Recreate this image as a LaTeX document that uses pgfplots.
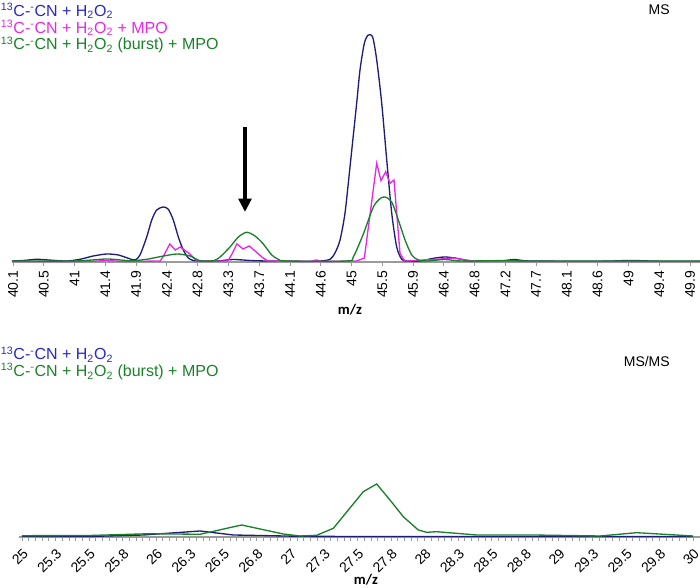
\documentclass[border=0pt]{standalone}
\usepackage{pgfplots}
\pgfplotsset{compat=1.18}
\usepackage{fontspec}
\setmainfont{Liberation Sans}
\newfontfamily\calibri{Carlito}
\usetikzlibrary{arrows.meta}
\definecolor{navy}{RGB}{30,30,120}
\definecolor{legblue}{RGB}{40,40,200}
\definecolor{mag}{RGB}{230,40,230}
\definecolor{grn}{RGB}{25,130,40}
\definecolor{axgray}{RGB}{155,155,155}
\pgfplotsset{mystyle/.style={
  scale only axis, axis x line*=bottom, axis y line=none, ymin=0,
  x axis line style={axgray, line width=0.9pt},
  tick style={axgray, line width=0.6pt},
  major tick length=3pt, minor tick length=3pt, tick align=outside,
  ticklabel style={font=\fontsize{10.5}{12}\selectfont, text=black},
  /pgf/number format/assume math mode=true,
  clip=false}}
\begin{document}
\begin{tikzpicture}
\useasboundingbox (0,0) rectangle (525pt,441pt);
% ---------- top: MS ----------
\begin{axis}[mystyle, at={(9pt,244.5pt)}, anchor=south west,
  width=516pt, height=174pt, xmin=40.085, xmax=50.045, ymax=232,
  xtick={40.1,40.5455,40.9909,41.4364,41.8818,42.3273,42.7727,43.2182,43.6636,44.1091,44.5545,45.0,45.4455,45.8909,46.3364,46.7818,47.2273,47.6727,48.1182,48.5636,49.0091,49.4545,49.9},
  xticklabels={40.1,40.5,41,41.4,41.9,42.4,42.8,43.3,43.7,44.1,44.6,45,45.5,45.9,46.4,46.8,47.2,47.7,48.1,48.6,49,49.4,49.9},
  minor tick num=8,
  xticklabel style={rotate=90, anchor=east}]
\addplot[navy, line width=1pt, smooth, tension=0.45] coordinates {
(40.085,1) (40.25,1.5) (40.443,2.7) (40.65,1.8) (40.877,1) (41.070,2.7) (41.262,6) (41.456,8) (41.624,7) (41.769,3.7) (41.866,2) (41.938,7) (42.035,25) (42.108,42) (42.180,52) (42.276,55) (42.348,52.7) (42.420,42) (42.493,25) (42.565,12) (42.638,4) (42.710,1.5) (42.807,1) (43.05,1) (43.289,2.5) (43.531,1.5) (43.773,1) (44.255,0.8) (44.544,1) (44.689,2.7) (44.761,9) (44.834,22) (44.906,49) (44.978,95) (45.075,159) (45.123,192) (45.186,218.7) (45.243,227) (45.307,224.7) (45.365,202) (45.437,159) (45.510,102) (45.582,49) (45.654,15) (45.727,2.7) (45.799,1) (45.992,1) (46.184,3.7) (46.354,5) (46.523,3.7) (46.716,1) (47.150,1) (47.367,2.5) (47.584,1) (48.597,0.8) (49.032,1.5) (49.466,0.8) (50.045,0.8)};
\addplot[mag, line width=1pt] coordinates {
(40.085,0.5) (41.2,0.5) (41.45,1.5) (41.7,0.5) (42.23,1) (42.27,5) (42.37,18) (42.45,12) (42.52,15) (42.60,11) (42.66,8) (42.76,1) (43.21,1) (43.27,8) (43.34,18) (43.43,13) (43.52,16) (43.62,10) (43.72,4) (43.79,1) (44.40,0.5) (44.49,2) (44.58,0.5) (45.075,1) (45.186,4) (45.365,98.7) (45.427,81.3) (45.495,90.3) (45.557,78.7) (45.615,82) (45.702,8.7) (45.760,2) (45.822,1) (46.281,3) (46.474,4) (46.668,2) (46.8,0.5) (50.045,0.5)};
\addplot[grn, line width=1pt, smooth, tension=0.45] coordinates {
(40.085,1) (41.0,1) (41.461,3) (41.8,1.2) (42.035,2.7) (42.228,5.3) (42.470,8) (42.662,6) (42.807,1.3) (43.000,1.3) (43.097,5) (43.241,15) (43.362,25) (43.483,29.7) (43.603,26) (43.723,18) (43.845,7) (43.941,2.7) (44.062,1) (44.931,1) (45.026,5) (45.171,28) (45.316,55) (45.413,63.3) (45.485,65) (45.582,60) (45.678,42) (45.775,22) (45.872,7) (45.967,2) (46.1,1) (46.35,2.5) (46.6,1) (47.3,1.5) (47.6,1) (50.045,1)};
\draw[black, line width=3pt, -{Triangle[length=10pt,width=9.5pt]}] (axis cs:43.458,135) -- (axis cs:43.458,50);
\end{axis}
% ---------- bottom: MS/MS ----------
\begin{axis}[mystyle, at={(14.25pt,38.25pt)}, anchor=south west,
  width=510.75pt, height=87.75pt, xmin=24.978, xmax=30.052, ymax=117,
  xtick={25,25.25,25.5,25.75,26,26.25,26.5,26.75,27,27.25,27.5,27.75,28,28.25,28.5,28.75,29,29.25,29.5,29.75,30},
  xticklabels={25,25.3,25.5,25.8,26,26.3,26.5,26.8,27,27.3,27.5,27.8,28,28.3,28.5,28.8,29,29.3,29.5,29.8,30},
  minor tick num=4,
  xticklabel style={rotate=45, anchor=north east}]
\addplot[navy, line width=1pt] coordinates {
(25.0,0.7) (25.5,0.5) (25.904,2) (26.326,6) (26.575,2) (27.072,0.7) (27.5,0.5) (30.0,0.5)};
\addplot[grn, line width=1pt] coordinates {
(25.0,1.3) (25.5,1.5) (25.954,3.3) (26.326,2.7) (26.637,12) (26.947,3) (27.072,1) (27.196,1.7) (27.320,8.7) (27.444,29) (27.543,45.3) (27.643,53) (27.742,37) (27.841,20.3) (27.953,7) (28.016,4.7) (28.090,5.3) (28.388,2) (28.810,2) (29.307,1) (29.580,4.3) (30.0,1)};
\end{axis}
% ---------- texts ----------
\begin{scope}[every node/.style={inner sep=0pt, font=\fontsize{12}{14}\selectfont}]
\node[anchor=base west, text=legblue] at (0.5pt,428.6pt) {\textsuperscript{13}C-\textsuperscript{-}CN + H\textsubscript{2}O\textsubscript{2}};
\node[anchor=base west, text=mag] at (0.5pt,415.9pt) {\textsuperscript{13}C-\textsuperscript{-}CN + H\textsubscript{2}O\textsubscript{2} + MPO};
\node[anchor=base west, text=grn] at (0.5pt,403.5pt) {\textsuperscript{13}C-\textsuperscript{-}CN + H\textsubscript{2}O\textsubscript{2} (burst) + MPO};
\node[anchor=base west, text=legblue] at (0.5pt,171pt) {\textsuperscript{13}C-\textsuperscript{-}CN + H\textsubscript{2}O\textsubscript{2}};
\node[anchor=base west, text=grn] at (0.5pt,158.5pt) {\textsuperscript{13}C-\textsuperscript{-}CN + H\textsubscript{2}O\textsubscript{2} (burst) + MPO};
\node[anchor=base east, font=\fontsize{10.5}{12}\selectfont] at (502.5pt,429.75pt) {MS};
\node[anchor=base east, font=\fontsize{10.5}{12}\selectfont] at (502.5pt,166pt) {MS/MS};
\node[anchor=base, font=\calibri\bfseries\fontsize{11}{13}\selectfont] at (262.5pt,204.75pt) {m/z};
\node[anchor=base, font=\calibri\bfseries\fontsize{11}{13}\selectfont] at (274.5pt,2.6pt) {m/z};
\end{scope}
\end{tikzpicture}
\end{document}
